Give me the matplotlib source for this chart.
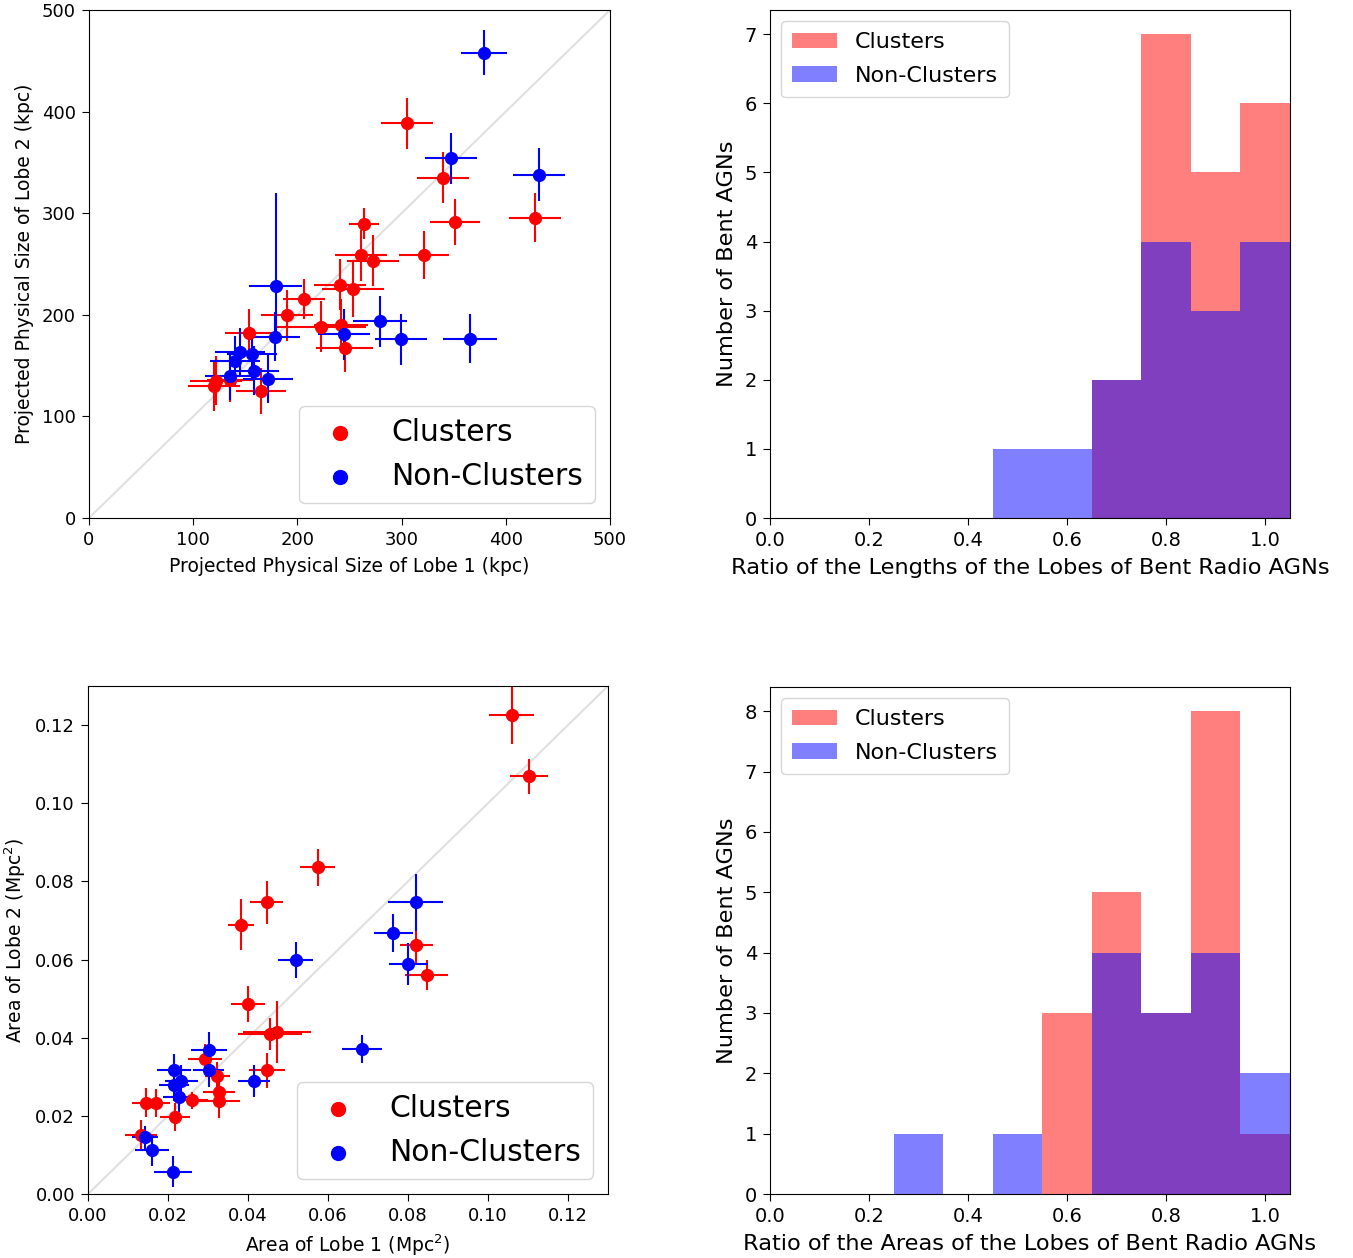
import matplotlib
matplotlib.use("Agg")
import matplotlib.pyplot as plt
from matplotlib.patches import Patch
import numpy as np

plt.rcParams['xtick.major.size'] = 4.7
plt.rcParams['ytick.major.size'] = 4.7
plt.rcParams['xtick.major.pad'] = 4.7
plt.rcParams['ytick.major.pad'] = 4.7
plt.rcParams['axes.labelpad'] = 5.4

# ---- Top-left: lobe sizes (kpc) ----
size1_clusters = [305.5, 340, 351.6, 428, 264.2, 261, 272.9, 321.8, 240.9, 253.4,
                  206.6, 190, 223, 241.8, 245.3, 153.2, 121.6, 135.3, 165.4, 119.8]
size2_clusters = [388.5, 335, 291.3, 295.6, 289.7, 258.5, 253.3, 258.9, 229.6, 225.7,
                  215.6, 199.5, 188.3, 190.3, 167, 181.8, 135.1, 135.8, 125, 130]
size1_err_clusters = [25, 25, 24, 25, 14.5, 25, 25, 24, 25, 30, 20, 25, 43, 26, 27, 23, 25, 22, 24, 25]
size2_err_clusters = [25, 25, 23, 24, 15, 25, 25, 24, 25, 28, 20, 25, 25, 25, 23, 24, 24, 22, 23, 25]

size1_nonclusters = [379, 347, 432, 179, 178.5, 279.6, 299, 366, 245, 144.6, 156.4, 140, 158.7, 171.8, 135.3]
size2_nonclusters = [458, 354, 338, 228, 178.5, 193.6, 176, 176.5, 181, 163, 161.4, 155, 145, 137, 140]
size1_err_nonclusters = [22, 25, 25, 25, 24, 26, 25, 26, 25, 24, 24, 24, 24, 24, 24]
size2_err_lo_nonclusters = [22, 25, 26, 55, 24, 25, 25, 24, 25, 24, 24, 24, 24, 24, 24]
size2_err_hi_nonclusters = [22, 25, 26, 92, 24, 25, 25, 24, 25, 24, 24, 24, 24, 24, 24]

# ---- Bottom-left: lobe areas (Mpc^2) ----
area1_clusters = [0.1059, 0.1102, 0.0574, 0.0447, 0.0383, 0.0821, 0.0847, 0.0400, 0.0455, 0.0472,
                  0.0448, 0.0293, 0.0323, 0.0327, 0.0327, 0.0260, 0.0146, 0.0171, 0.0218, 0.0133]
area2_clusters = [0.1225, 0.1069, 0.0836, 0.0746, 0.0689, 0.0636, 0.0561, 0.0486, 0.0409, 0.0414,
                  0.0317, 0.0345, 0.0302, 0.0260, 0.0239, 0.0240, 0.0234, 0.0232, 0.0196, 0.0151]
area1_err_clusters = [0.0057, 0.0047, 0.0043, 0.0041, 0.0032, 0.0041, 0.0054, 0.0042, 0.0080, 0.0085,
                      0.0045, 0.0043, 0.0031, 0.0040, 0.0052, 0.0040, 0.0037, 0.0035, 0.0037, 0.0040]
area2_err_clusters = [0.0073, 0.0045, 0.0047, 0.0054, 0.0065, 0.0044, 0.0038, 0.0046, 0.0041, 0.0080,
                      0.0045, 0.0040, 0.0035, 0.0035, 0.0045, 0.0022, 0.0036, 0.0036, 0.0036, 0.0039]

area1_nonclusters = [0.0819, 0.0763, 0.0801, 0.0519, 0.0686, 0.0415, 0.0302, 0.0302, 0.0215, 0.0233,
                     0.0215, 0.0227, 0.0143, 0.0160, 0.0212]
area2_nonclusters = [0.0747, 0.0668, 0.0589, 0.0600, 0.0372, 0.0289, 0.0368, 0.0318, 0.0317, 0.0289,
                     0.0278, 0.0247, 0.0145, 0.0112, 0.0057]
area1_err_nonclusters = [0.0069, 0.0049, 0.0049, 0.0044, 0.0050, 0.0041, 0.0045, 0.0039, 0.0042, 0.0041,
                         0.0037, 0.0039, 0.0033, 0.0043, 0.0048]
area2_err_nonclusters = [0.0073, 0.0049, 0.0054, 0.0046, 0.0036, 0.0040, 0.0047, 0.0043, 0.0041, 0.0040,
                         0.0040, 0.0038, 0.0030, 0.0040, 0.0040]

# ---- Histograms (bin centres, width 0.1) ----
bin_centers = [0.1, 0.2, 0.3, 0.4, 0.5, 0.6, 0.7, 0.8, 0.9, 1.0]
length_ratio_clusters = [0, 0, 0, 0, 0, 0, 2, 7, 5, 6]
length_ratio_nonclusters = [0, 0, 0, 0, 1, 1, 2, 4, 3, 4]
area_ratio_clusters = [0, 0, 0, 0, 0, 3, 5, 3, 8, 1]
area_ratio_nonclusters = [0, 0, 1, 0, 1, 0, 4, 3, 4, 2]

W, H = 1353, 1258
fig = plt.figure(figsize=(W / 100, H / 100), dpi=100)

def frac(l, t, r, b):
    return [l / W, 1 - b / H, (r - l) / W, (b - t) / H]

ax1 = fig.add_axes(frac(89, 10, 610, 518))
ax2 = fig.add_axes(frac(770, 10, 1290, 518))
ax3 = fig.add_axes(frac(88, 686, 608, 1194))
ax4 = fig.add_axes(frac(770, 687, 1290, 1194))

SC_FS = 13.5
eb_kw = dict(fmt='o', markersize=8.5, elinewidth=1.5, capsize=0)

def scatter_panel(ax, x1c, x2c, e1c, e2c, x1n, x2n, e1n, e2n, lim, xlabel, ylabel):
    ax.plot([0, lim], [0, lim], color='#e0e0e0', lw=1.5, zorder=0)
    ax.errorbar(x1c, x2c, xerr=e1c, yerr=e2c, color='red', ecolor='red', **eb_kw)
    ax.errorbar(x1n, x2n, xerr=e1n, yerr=e2n, color='blue', ecolor='blue', **eb_kw)
    ax.set_xlim(0, lim)
    ax.set_ylim(0, lim)
    ax.set_xlabel(xlabel, fontsize=SC_FS)
    ax.set_ylabel(ylabel, fontsize=SC_FS)
    ax.tick_params(labelsize=13)
    h1 = ax.scatter([], [], color='red', s=100)
    h2 = ax.scatter([], [], color='blue', s=100)
    ax.legend([h1, h2], ['Clusters', 'Non-Clusters'], loc='lower right', fontsize=21.5,
              handletextpad=0.7)

scatter_panel(ax1, size1_clusters, size2_clusters, size1_err_clusters, size2_err_clusters,
              size1_nonclusters, size2_nonclusters, size1_err_nonclusters,
              [size2_err_lo_nonclusters, size2_err_hi_nonclusters], 500,
              'Projected Physical Size of Lobe 1 (kpc)', 'Projected Physical Size of Lobe 2 (kpc)')
ax1.set_xticks([0, 100, 200, 300, 400, 500])
ax1.set_yticks([0, 100, 200, 300, 400, 500])

scatter_panel(ax3, area1_clusters, area2_clusters, area1_err_clusters, area2_err_clusters,
              area1_nonclusters, area2_nonclusters, area1_err_nonclusters, area2_err_nonclusters, 0.13,
              r'Area of Lobe 1 (Mpc$^2$)', r'Area of Lobe 2 (Mpc$^2$)')
ticks = [0.0, 0.02, 0.04, 0.06, 0.08, 0.10, 0.12]
ax3.set_xticks(ticks)
ax3.set_yticks(ticks)
ax3.set_xticklabels([f'{t:.2f}' for t in ticks])
ax3.set_yticklabels([f'{t:.2f}' for t in ticks])

def hist_panel(ax, cl, ncl, xlabel):
    ax.bar(bin_centers, cl, width=0.1, color='red', alpha=0.5, linewidth=0)
    ax.bar(bin_centers, ncl, width=0.1, color='blue', alpha=0.5, linewidth=0)
    ax.set_xlim(0, 1.05)
    ax.set_ylim(0, max(max(cl), max(ncl)) * 1.05)
    ax.set_xticks([0.0, 0.2, 0.4, 0.6, 0.8, 1.0])
    ax.set_xticklabels(['0.0', '0.2', '0.4', '0.6', '0.8', '1.0'])
    ax.set_yticks(range(0, max(max(cl), max(ncl)) + 1))
    ax.tick_params(labelsize=14)
    ax.set_xlabel(xlabel, fontsize=16.2)
    ax.set_ylabel('Number of Bent AGNs', fontsize=16.2)
    handles = [Patch(facecolor='red', alpha=0.5), Patch(facecolor='blue', alpha=0.5)]
    ax.legend(handles, ['Clusters', 'Non-Clusters'], loc='upper left', fontsize=16,
              labelspacing=0.62, borderpad=0.5)

hist_panel(ax2, length_ratio_clusters, length_ratio_nonclusters,
           'Ratio of the Lengths of the Lobes of Bent Radio AGNs')
hist_panel(ax4, area_ratio_clusters, area_ratio_nonclusters,
           'Ratio of the Areas of the Lobes of Bent Radio AGNs')

fig.savefig('out.png', dpi=100)
